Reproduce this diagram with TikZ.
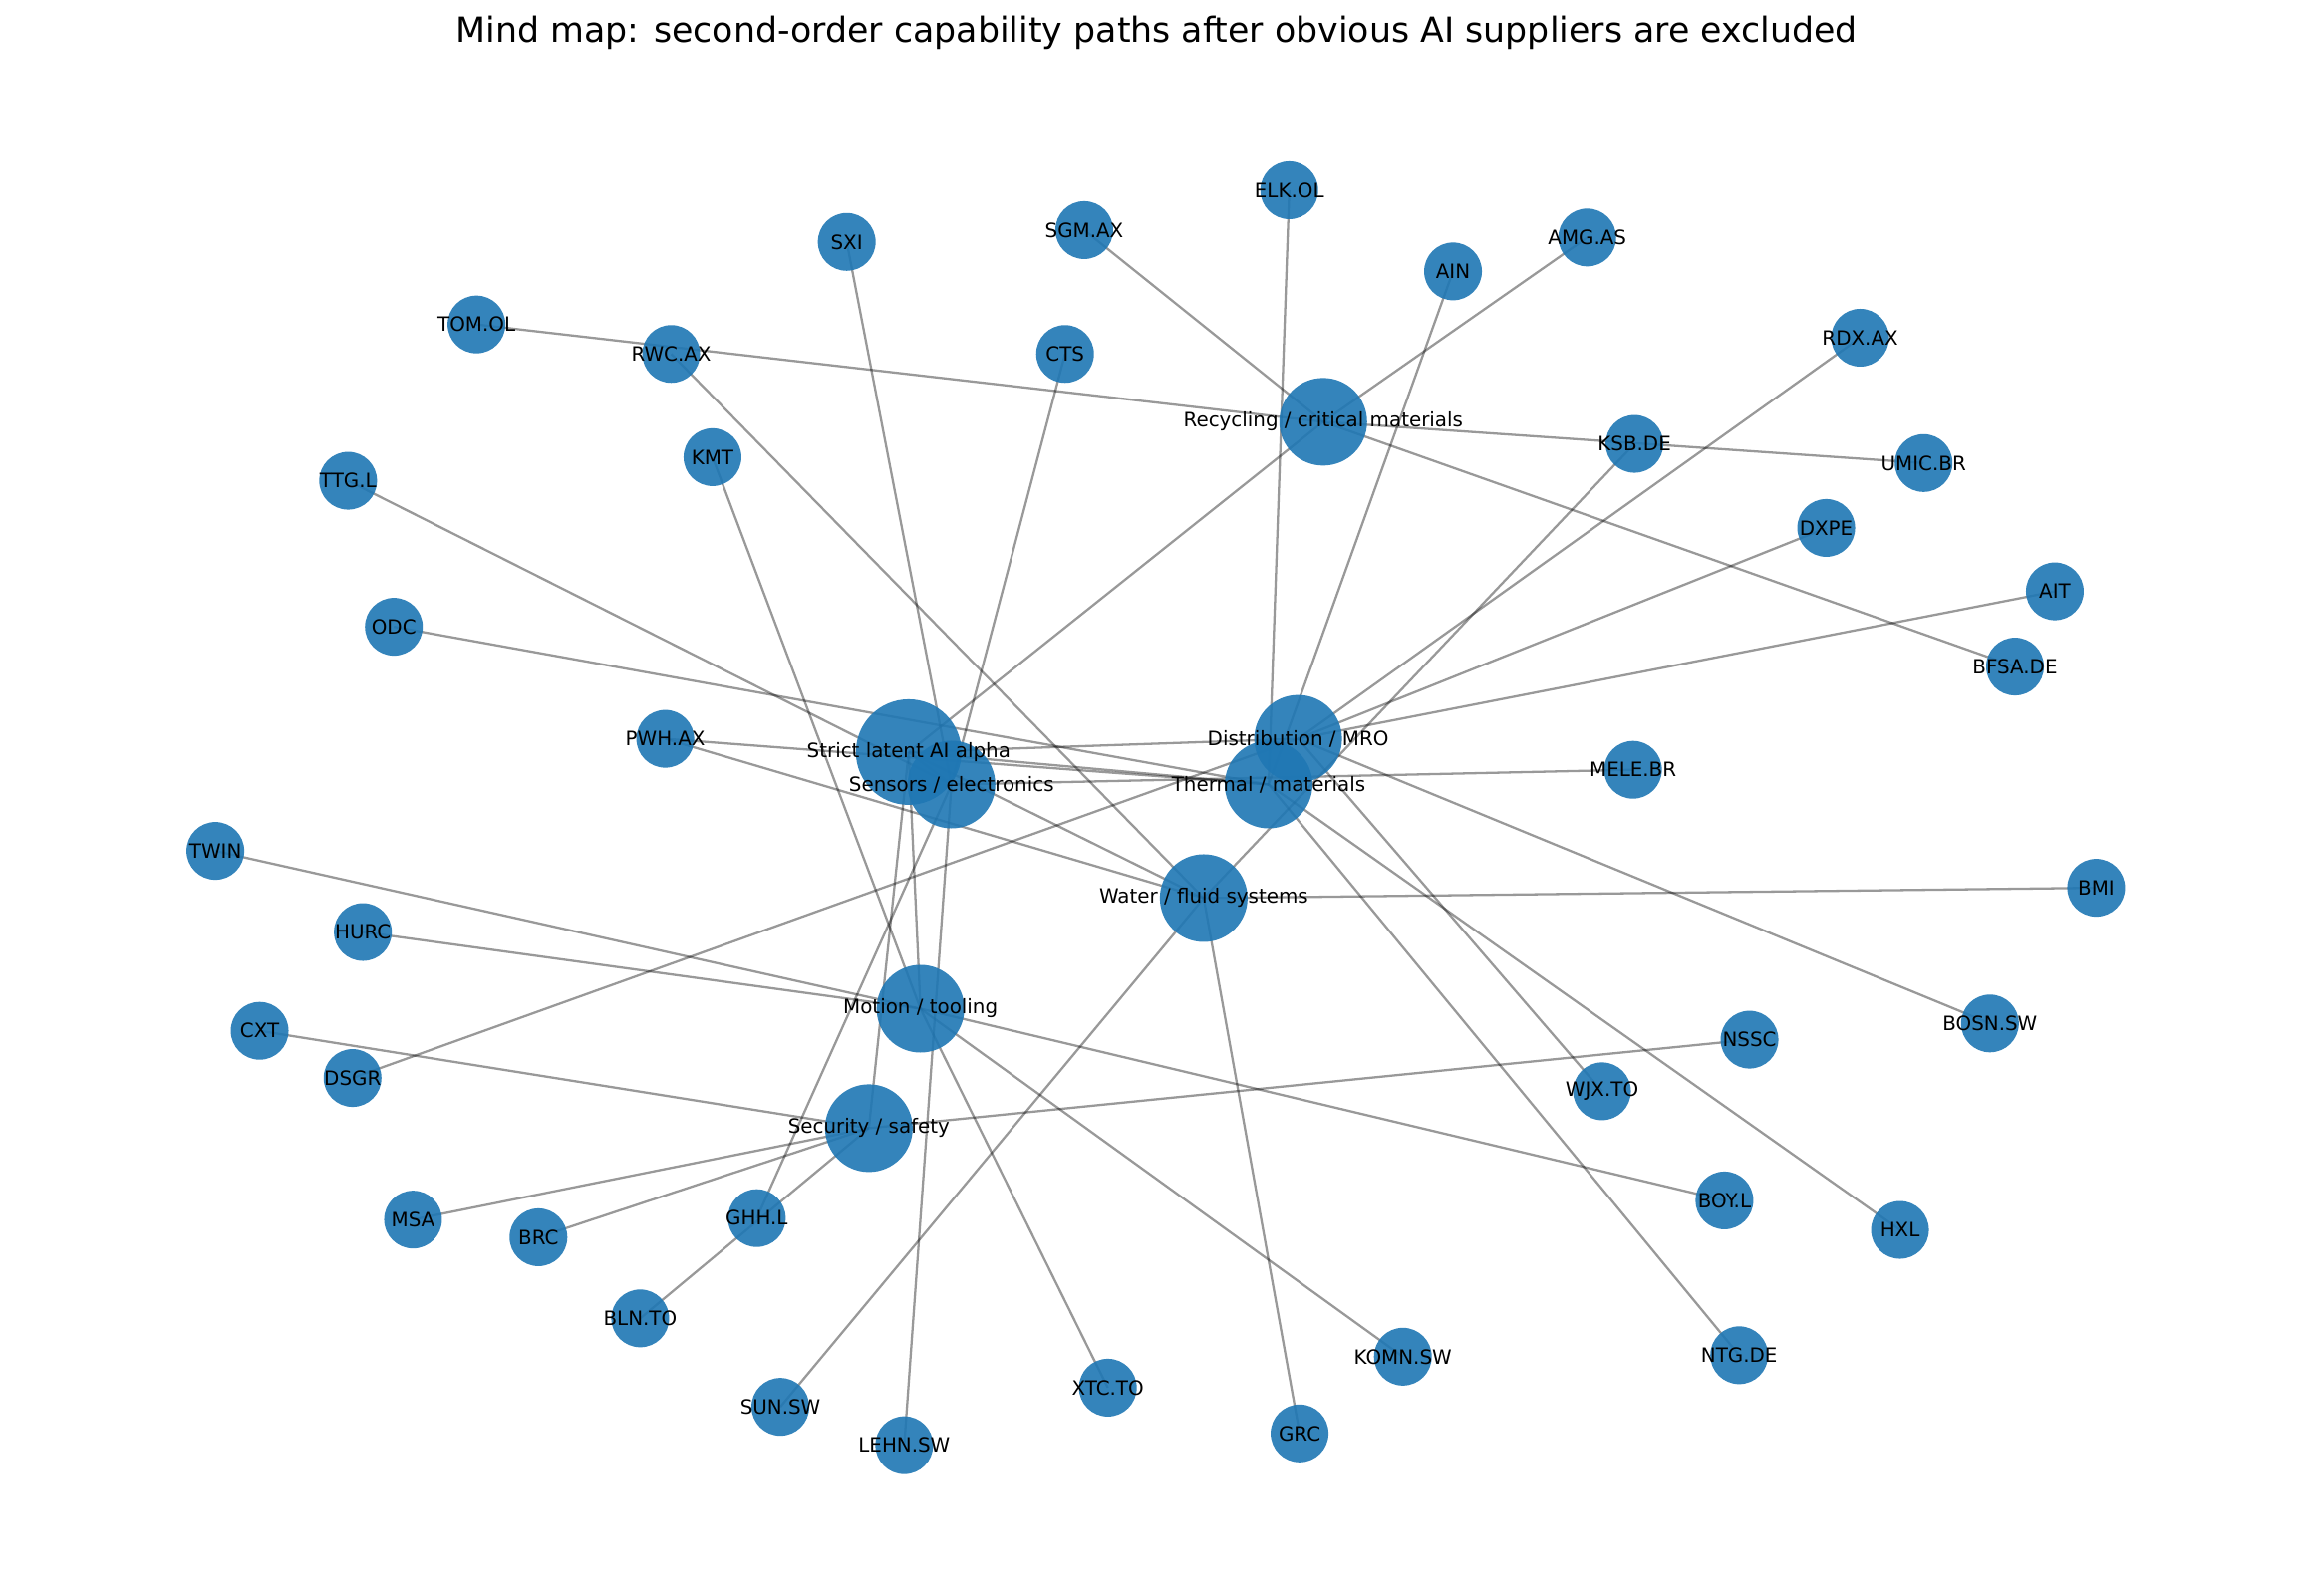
\documentclass[tikz,border=0pt]{standalone}
\usepackage{fontspec}
\newfontfamily\dejavu{DejaVu Sans}
\pgfdeclarelayer{bg}
\pgfsetlayers{bg,main}
\definecolor{nodeblue}{HTML}{1F77B4}
\tikzset{
  leafnode/.style={circle, draw=none, fill=nodeblue, fill opacity=0.9, minimum size=0.58cm, inner sep=0pt},
  hubnode/.style={circle, draw=none, fill=nodeblue, fill opacity=0.9, minimum size=0.88cm, inner sep=0pt},
  rootnode/.style={circle, draw=none, fill=nodeblue, fill opacity=0.9, minimum size=1.06cm, inner sep=0pt},
  lbl/.style={inner sep=0pt, text=black, font=\dejavu\fontsize{5.65}{6.8}\selectfont},
  edgeline/.style={draw=black, draw opacity=0.4, line width=0.65pt},
  titletext/.style={inner sep=0pt, font=\dejavu\fontsize{9.9}{12}\selectfont}
}
\begin{document}
\begin{tikzpicture}[x=0.014802cm, y=-0.014802cm]
\useasboundingbox (0,0) rectangle (1568,1082);
\begin{pgfonlayer}{bg}
\fill[white] (0,0) rectangle (1568,1082);
\end{pgfonlayer}
\node[titletext] (title) at (784,22) {Mind map: second-order capability paths after obvious AI suppliers are excluded};
% hubs
\node[rootnode] (root) at (616,510) {};
\node[hubnode] (rec) at (897,286) {};
\node[hubnode] (dist) at (880,501) {};
\node[hubnode] (therm) at (860,532) {};
\node[hubnode] (sens) at (645,532) {};
\node[hubnode] (water) at (816,609) {};
\node[hubnode] (motion) at (624,684) {};
\node[hubnode] (sec) at (589,765) {};
% leaves
\node[leafnode] (ELK) at (874,129) {};
\node[leafnode] (SGM) at (735,156) {};
\node[leafnode] (SXI) at (574,164) {};
\node[leafnode] (AMG) at (1076,161) {};
\node[leafnode] (AIN) at (985,184) {};
\node[leafnode] (TOM) at (323,220) {};
\node[leafnode] (RWC) at (455,240) {};
\node[leafnode] (CTS) at (722,240) {};
\node[leafnode] (RDX) at (1261,229) {};
\node[leafnode] (KMT) at (483,310) {};
\node[leafnode] (TTG) at (236,326) {};
\node[leafnode] (KSB) at (1108,301) {};
\node[leafnode] (UMIC) at (1304,314) {};
\node[leafnode] (DXPE) at (1238,358) {};
\node[leafnode] (AIT) at (1393,401) {};
\node[leafnode] (ODC) at (267,425) {};
\node[leafnode] (BFSA) at (1366,452) {};
\node[leafnode] (PWH) at (451,501) {};
\node[leafnode] (MELE) at (1107,522) {};
\node[leafnode] (TWIN) at (146,577) {};
\node[leafnode] (BMI) at (1421,602) {};
\node[leafnode] (HURC) at (246,632) {};
\node[leafnode] (CXT) at (176,699) {};
\node[leafnode] (DSGR) at (239,731) {};
\node[leafnode] (NSSC) at (1186,705) {};
\node[leafnode] (BOSN) at (1349,694) {};
\node[leafnode] (WJX) at (1086,740) {};
\node[leafnode] (MSA) at (280,827) {};
\node[leafnode] (BRC) at (365,839) {};
\node[leafnode] (GHH) at (513,826) {};
\node[leafnode] (BOY) at (1169,814) {};
\node[leafnode] (HXL) at (1288,834) {};
\node[leafnode] (BLN) at (434,894) {};
\node[leafnode] (KOMN) at (951,920) {};
\node[leafnode] (NTG) at (1179,919) {};
\node[leafnode] (XTC) at (751,941) {};
\node[leafnode] (SUN) at (529,954) {};
\node[leafnode] (GRC) at (881,972) {};
\node[leafnode] (LEHN) at (613,980) {};
% edges
\begin{pgfonlayer}{bg}
\foreach \h in {rec,dist,therm,sens,water,motion,sec}
  \draw[edgeline] (root.center) -- (\h.center);
\foreach \l in {TOM,AMG,UMIC,BFSA,SGM}
  \draw[edgeline] (rec.center) -- (\l.center);
\foreach \l in {RDX,DXPE,AIT,BOSN,WJX,DSGR}
  \draw[edgeline] (dist.center) -- (\l.center);
\foreach \l in {ELK,AIN,HXL,NTG,ODC,PWH}
  \draw[edgeline] (therm.center) -- (\l.center);
\foreach \l in {SXI,CTS,TTG,MELE,LEHN,GHH}
  \draw[edgeline] (sens.center) -- (\l.center);
\foreach \l in {KMT,TWIN,HURC,BOY,XTC,KOMN}
  \draw[edgeline] (motion.center) -- (\l.center);
\foreach \l in {MSA,BRC,NSSC,CXT,BLN}
  \draw[edgeline] (sec.center) -- (\l.center);
\foreach \l in {BMI,KSB,GRC,SUN,RWC,PWH}
  \draw[edgeline] (water.center) -- (\l.center);
\end{pgfonlayer}
% labels
\node[lbl] (troot) at (root) {Strict latent AI alpha};
\node[lbl] (trec) at (rec) {Recycling / critical materials};
\node[lbl] (tdist) at (dist) {Distribution / MRO};
\node[lbl] (ttherm) at (therm) {Thermal / materials};
\node[lbl] (tsens) at (sens) {Sensors / electronics};
\node[lbl] (twater) at (water) {Water / fluid systems};
\node[lbl] (tmotion) at (motion) {Motion / tooling};
\node[lbl] (tsec) at (sec) {Security / safety};
\foreach \n/\t in {ELK/ELK.OL, SGM/SGM.AX, SXI/SXI, AMG/AMG.AS, AIN/AIN, TOM/TOM.OL, RWC/RWC.AX, CTS/CTS, RDX/RDX.AX, KMT/KMT, TTG/TTG.L, KSB/KSB.DE, UMIC/UMIC.BR, DXPE/DXPE, AIT/AIT, ODC/ODC, BFSA/BFSA.DE, PWH/PWH.AX, MELE/MELE.BR, TWIN/TWIN, BMI/BMI, HURC/HURC, CXT/CXT, DSGR/DSGR, NSSC/NSSC, BOSN/BOSN.SW, WJX/WJX.TO, MSA/MSA, BRC/BRC, GHH/GHH.L, BOY/BOY.L, HXL/HXL, BLN/BLN.TO, KOMN/KOMN.SW, NTG/NTG.DE, XTC/XTC.TO, SUN/SUN.SW, GRC/GRC, LEHN/LEHN.SW}
  \node[lbl] (t\n) at (\n) {\t};
\end{tikzpicture}
\end{document}
